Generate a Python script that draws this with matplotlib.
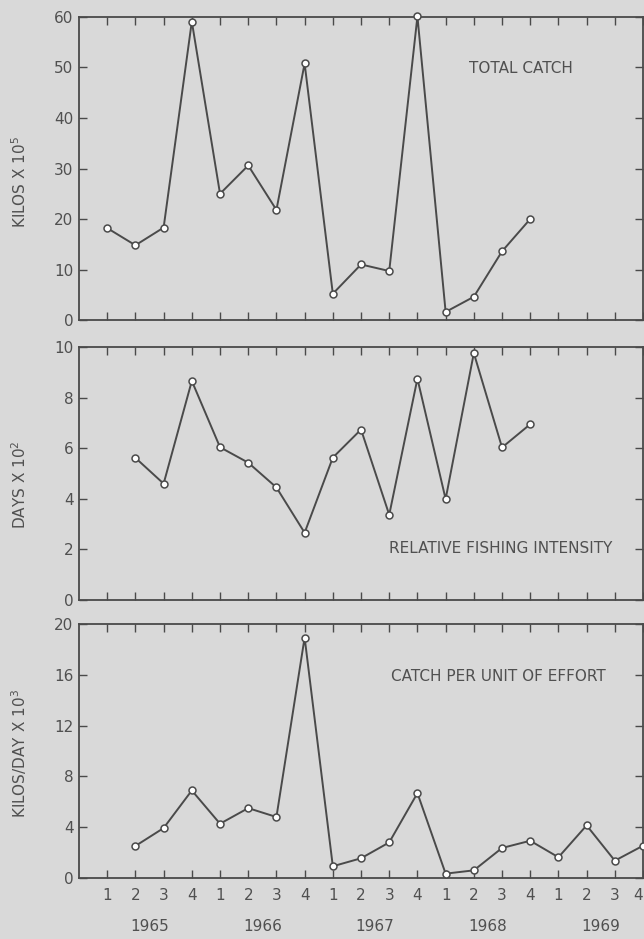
import numpy as np
import matplotlib.pyplot as plt
from matplotlib import transforms

# Quarterly series, 1965 Q1 = position 1 ... 1969 Q4 = position 20
YEARS = [1965, 1966, 1967, 1968, 1969]
QUARTER_LABELS = ["1", "2", "3", "4"] * len(YEARS)

# Total catch (kilos x 10^5), 1965 Q1 - 1968 Q4
catch_x = np.arange(1, 17)
total_catch = [18.2, 14.8, 18.3, 59.1, 25.0, 30.6, 21.8, 50.8,
               5.2, 11.0, 9.7, 60.1, 1.6, 4.6, 13.6, 20.0]

# Relative fishing intensity (days x 10^2), 1965 Q2 - 1968 Q4
effort_x = np.arange(2, 17)
fishing_days = [5.62, 4.6, 8.66, 6.04, 5.43, 4.45, 2.66,
                5.63, 6.74, 3.37, 8.75, 3.99, 9.76, 6.03, 6.95]

# Catch per unit of effort (kilos/day x 10^3), 1965 Q2 - 1969 Q4
cpue_x = np.arange(2, 21)
cpue = [2.52, 3.93, 6.89, 4.27, 5.50, 4.80, 18.93,
        0.92, 1.55, 2.80, 6.68, 0.34, 0.60, 2.36, 2.93,
        1.63, 4.14, 1.36, 2.54]

BG = "#d9d9d9"
INK = "#4a4a4a"
TXT = "#505050"

plt.rcParams["font.family"] = "DejaVu Sans"

fig = plt.figure(figsize=(6.44, 9.39), dpi=100, facecolor=BG)

LEFT, WIDTH = 0.1227, 0.8758
panels = [
    dict(rect=[LEFT, 0.6592, WIDTH, 0.3227], x=catch_x, y=total_catch,
         ylim=(0, 60), yticks=[0, 10, 20, 30, 40, 50, 60],
         ylabel="KILOS X 10$^{5}$", ylab_y=0.455,
         title="TOTAL CATCH", tpos=(0.784, 0.83)),
    dict(rect=[LEFT, 0.3610, WIDTH, 0.2694], x=effort_x, y=fishing_days,
         ylim=(0, 10), yticks=[0, 2, 4, 6, 8, 10],
         ylabel="DAYS X 10$^{2}$", ylab_y=0.455,
         title="RELATIVE FISHING INTENSITY", tpos=(0.7475, 0.205)),
    dict(rect=[LEFT, 0.0650, WIDTH, 0.2705], x=cpue_x, y=cpue,
         ylim=(0, 20), yticks=[0, 4, 8, 12, 16, 20],
         ylabel="KILOS/DAY X 10$^{3}$", ylab_y=0.49,
         title="CATCH PER UNIT OF EFFORT", tpos=(0.744, 0.795)),
]

for i, p in enumerate(panels):
    ax = fig.add_axes(p["rect"])
    ax.set_facecolor(BG)
    ax.plot(p["x"], p["y"], color=INK, linewidth=1.4, marker="o",
            markersize=5, markerfacecolor="white", markeredgecolor=INK,
            markeredgewidth=1.1, clip_on=False, zorder=3)
    ax.set_xlim(0, 20)
    ax.set_ylim(*p["ylim"])
    ax.set_yticks(p["yticks"])
    ax.set_xticks(np.arange(1, 21))
    ax.tick_params(direction="in", top=True, right=True, length=6,
                   width=1.0, color=INK, labelcolor=TXT, labelsize=11,
                   labelright=False)
    ax.tick_params(axis="y", pad=4)
    for s in ax.spines.values():
        s.set_color(INK)
        s.set_linewidth(1.3)
    ax.set_ylabel(p["ylabel"], color=TXT, fontsize=11)
    ax.yaxis.set_label_coords(-0.088, p["ylab_y"])
    ax.text(p["tpos"][0], p["tpos"][1], p["title"], transform=ax.transAxes,
            ha="center", va="center", fontsize=11, color=TXT)
    if i < 2:
        ax.tick_params(axis="x", labelbottom=False)
    else:
        ax.set_xticklabels(QUARTER_LABELS)
        ax.tick_params(axis="x", pad=7)
        # last label sits at the right edge of the figure
        ax.get_xticklabels()[-1].set_horizontalalignment("right")
        trans = transforms.blended_transform_factory(ax.transData,
                                                     ax.transAxes)
        for k, yr in enumerate(YEARS):
            ax.text(2.5 + 4 * k, -0.19, str(yr), transform=trans,
                    ha="center", va="center", fontsize=11, color=TXT)

fig.savefig("out.png", dpi=100, facecolor=BG)
